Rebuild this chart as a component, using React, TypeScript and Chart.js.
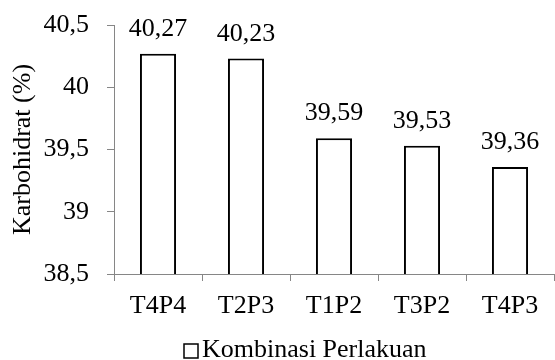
import React, { useEffect, useRef } from "react";
import { Chart, registerables } from "chart.js";

Chart.register(...registerables);

const categories = ["T4P4", "T2P3", "T1P2", "T3P2", "T4P3"];
const values = [40.27, 40.23, 39.59, 39.53, 39.36];
const yMin = 38.5;
const yMax = 40.5;
const yStep = 0.5;
const seriesName = "Kombinasi Perlakuan";
const yTitle = "Karbohidrat (%)";

const FONT = "'Liberation Serif', 'Times New Roman', serif";
const AXIS = "#868686";

const fmt = (v: number) => String(v).replace(".", ",");

export default function App() {
  const ref = useRef<HTMLCanvasElement | null>(null);

  useEffect(() => {
    document.body.style.margin = "0";
    if (!ref.current) return;

    const labelPlugin = {
      id: "valueLabels",
      afterDatasetsDraw(chart: any) {
        const ctx = chart.ctx;
        const meta = chart.getDatasetMeta(0);
        ctx.save();
        ctx.font = `26px ${FONT}`;
        ctx.fillStyle = "#000";
        ctx.textAlign = "center";
        ctx.textBaseline = "alphabetic";
        meta.data.forEach((bar: any, i: number) => {
          ctx.fillText(fmt(values[i]), bar.x, bar.y - 18);
        });
        ctx.restore();
      },
      afterDraw(chart: any) {
        const ctx = chart.ctx;
        ctx.save();
        ctx.strokeStyle = "#000";
        ctx.lineWidth = 1.5;
        ctx.fillStyle = "#fff";
        ctx.fillRect(184, 344, 14, 14);
        ctx.strokeRect(184, 344, 14, 14);
        ctx.font = `26px ${FONT}`;
        ctx.fillStyle = "#000";
        ctx.textAlign = "left";
        ctx.textBaseline = "alphabetic";
        ctx.fillText(seriesName, 202, 357);
        ctx.restore();
      },
    };

    const chart = new Chart(ref.current, {
      type: "bar",
      data: {
        labels: categories,
        datasets: [
          {
            label: seriesName,
            data: values,
            backgroundColor: "#ffffff",
            borderColor: "#000000",
            borderWidth: 2,
            borderSkipped: false,
            barPercentage: 0.41,
            categoryPercentage: 1,
          },
        ],
      },
      options: {
        animation: false,
        responsive: true,
        maintainAspectRatio: false,
        layout: { padding: { top: 25, right: 1, bottom: 0, left: 0 } },
        plugins: {
          legend: { display: false },
          tooltip: { enabled: false },
        },
        scales: {
          x: {
            afterFit: (s: any) => {
              s.height = 86;
              s.paddingLeft = 0;
              s.paddingRight = 0;
            },
            grid: {
              display: true,
              drawOnChartArea: false,
              drawTicks: true,
              tickLength: 7,
              color: AXIS,
              offset: true,
            },
            border: { display: true, color: AXIS, width: 1 },
            ticks: {
              color: "#000",
              font: { family: FONT, size: 26 },
              padding: 10,
              maxRotation: 0,
            },
          },
          y: {
            min: yMin,
            max: yMax,
            afterFit: (s: any) => {
              s.width = 114;
              s.paddingTop = 0;
              s.paddingBottom = 0;
            },
            grid: {
              display: true,
              drawOnChartArea: false,
              drawTicks: true,
              tickLength: 7,
              color: AXIS,
            },
            border: { display: true, color: AXIS, width: 1 },
            ticks: {
              stepSize: yStep,
              color: "#000",
              font: { family: FONT, size: 26 },
              padding: 18,
              callback: (v: any) => fmt(Number(v)),
            },
            title: {
              display: true,
              text: yTitle,
              color: "#000",
              font: { family: FONT, size: 26 },
              padding: { top: 8, bottom: 0 },
            },
          },
        },
      },
      plugins: [labelPlugin],
    });

    return () => chart.destroy();
  }, []);

  return (
    <div style={{ position: "fixed", left: 0, top: 0, width: 555, height: 360 }}>
      <canvas ref={ref} />
    </div>
  );
}
